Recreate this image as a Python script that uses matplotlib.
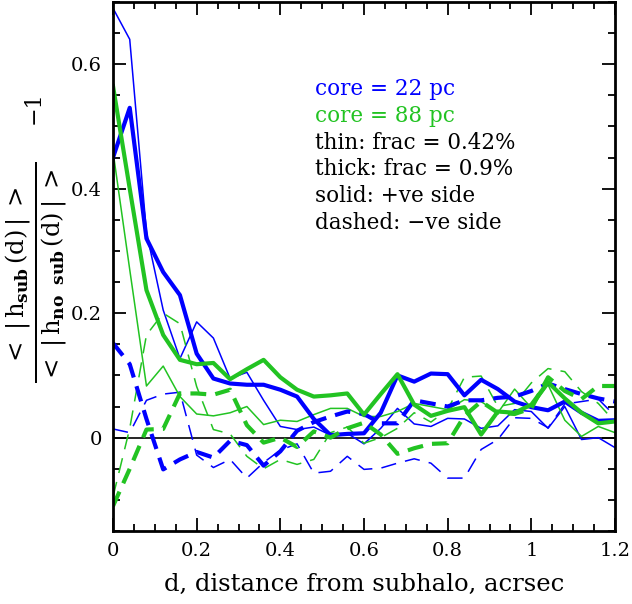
import matplotlib
matplotlib.use("Agg")
import matplotlib.pyplot as plt
from matplotlib.ticker import MultipleLocator
import numpy as np

# data
d = np.round(np.arange(31) * 0.04, 2)

blue_thin_pos = [0.69, 0.64, 0.33, 0.205, 0.127, 0.186, 0.16, 0.095, 0.105, 0.06,
                 0.018, 0.013, 0.017, 0.004, 0.007, -0.01, 0.015, 0.047, 0.022, 0.018,
                 0.031, 0.03, 0.015, 0.019, 0.045, 0.042, 0.015, 0.05, -0.003, 0.0, -0.016]
blue_thin_neg = [0.014, 0.008, 0.06, 0.07, 0.073, -0.028, -0.048, -0.035, -0.065, -0.04,
                 -0.02, -0.01, -0.057, -0.054, -0.03, -0.051, -0.049, -0.041, -0.034, -0.041,
                 -0.065, -0.065, -0.019, -0.003, 0.032, 0.031, 0.016, 0.054, 0.058, 0.062, 0.035]
blue_thick_pos = [0.45, 0.53, 0.32, 0.266, 0.229, 0.135, 0.095, 0.087, 0.085, 0.085,
                  0.077, 0.066, 0.03, 0.004, 0.006, 0.007, 0.04, 0.1, 0.09, 0.103,
                  0.102, 0.068, 0.093, 0.078, 0.058, 0.049, 0.044, 0.058, 0.04, 0.027, 0.028]
blue_thick_neg = [0.152, 0.118, 0.03, -0.051, -0.035, -0.023, -0.032, -0.005, -0.012, -0.045,
                  -0.022, 0.011, 0.025, 0.034, 0.042, 0.038, 0.023, 0.023, 0.06, 0.055,
                  0.05, 0.06, 0.06, 0.064, 0.066, 0.075, 0.087, 0.078, 0.07, 0.063, 0.058]
green_thin_pos = [0.46, 0.27, 0.083, 0.115, 0.066, 0.038, 0.035, 0.04, 0.05, 0.021,
                  0.028, 0.026, 0.037, 0.047, 0.047, 0.034, 0.034, 0.042, 0.055, 0.05,
                  0.045, 0.061, 0.058, 0.04, 0.078, 0.048, 0.085, 0.028, 0.002, 0.018, 0.008]
green_thin_neg = [-0.095, 0.015, 0.165, 0.2, 0.183, 0.082, 0.013, 0.006, -0.03, -0.05,
                  -0.035, -0.043, -0.035, 0.008, 0.017, -0.009, 0.0, 0.015, 0.04, 0.025,
                  0.045, 0.097, 0.099, 0.05, 0.055, 0.088, 0.111, 0.106, 0.074, 0.055, 0.025]
green_thick_pos = [0.565, 0.4, 0.237, 0.165, 0.125, 0.118, 0.12, 0.094, 0.11, 0.125,
                   0.097, 0.077, 0.066, 0.068, 0.071, 0.037, 0.07, 0.102, 0.053, 0.035,
                   0.043, 0.049, 0.005, 0.042, 0.04, 0.053, 0.089, 0.063, 0.04, 0.023, 0.026]
green_thick_neg = [-0.11, -0.05, 0.013, 0.014, 0.071, 0.071, 0.069, 0.077, 0.02, -0.008,
                   0.0, -0.015, 0.01, 0.0, 0.015, 0.024, 0.005, -0.026, -0.017, -0.01,
                   -0.009, 0.035, 0.058, 0.04, 0.038, 0.047, 0.097, 0.075, 0.062, 0.083, 0.083]

legend_lines = ["core = 22 pc", "core = 88 pc", "thin: frac = 0.42%",
                "thick: frac = 0.9%", "solid: +ve side", "dashed: \u2212ve side"]

BLUE = "#0000ff"
GREEN = "#22c322"
THIN = 1.1
THICK = 3.0

plt.rcParams['font.family'] = 'DejaVu Serif'
plt.rcParams['mathtext.fontset'] = 'dejavuserif'

fig = plt.figure(figsize=(6.32, 6.04), dpi=100)
ax = fig.add_axes([113 / 632, 73 / 604, 502 / 632, 529 / 604])

ax.axhline(0, color='black', lw=1.2, zorder=1)

ax.plot(d, blue_thin_pos, color=BLUE, lw=THIN)
ax.plot(d, blue_thin_neg, color=BLUE, lw=THIN, dashes=(10, 6))
ax.plot(d, green_thin_pos, color=GREEN, lw=THIN)
ax.plot(d, green_thin_neg, color=GREEN, lw=THIN, dashes=(10, 6))
ax.plot(d, blue_thick_pos, color=BLUE, lw=THICK)
ax.plot(d, blue_thick_neg, color=BLUE, lw=THICK, dashes=(3.8, 2.2))
ax.plot(d, green_thick_pos, color=GREEN, lw=THICK)
ax.plot(d, green_thick_neg, color=GREEN, lw=THICK, dashes=(3.8, 2.2))

ax.set_xlim(0, 1.2)
ax.set_ylim(-0.15, 0.7)
ax.xaxis.set_minor_locator(MultipleLocator(0.05))
ax.yaxis.set_minor_locator(MultipleLocator(0.05))
ax.set_xticks([0, 0.2, 0.4, 0.6, 0.8, 1.0, 1.2], ["0", "0.2", "0.4", "0.6", "0.8", "1", "1.2"])
ax.set_yticks([0, 0.2, 0.4, 0.6], ["0", "0.2", "0.4", "0.6"])
ax.tick_params(which='both', direction='in', top=True, right=True, labelsize=14, width=1.3)
ax.tick_params(which='major', length=9.5, pad=8)
ax.tick_params(which='minor', length=5)
for s in ax.spines.values():
    s.set_linewidth(2)

ax.set_xlabel("d, distance from subhalo, acrsec", fontsize=17.5, labelpad=9)

fig.text(37 / 632, 1 - 272 / 604,
         r'$\frac{<\;|\,\mathrm{h}_{\mathbf{sub}}\,\mathrm{(d)}\,|\;>}'
         r'{<\;|\,\mathrm{h}_{\mathbf{no\ \ sub}}\,\mathrm{(d)}\,|\;>}$',
         rotation=90, fontsize=25, ha='center', va='center')
fig.text(34 / 632, 1 - 108 / 604, "\u22121", rotation=90, fontsize=16, ha='center', va='center')

colors_txt = [BLUE, GREEN, 'black', 'black', 'black', 'black']
for k, (t, c) in enumerate(zip(legend_lines, colors_txt)):
    ax.text(0.4025, 0.8355 - k * 0.0507, t, color=c, fontsize=15.5,
            transform=ax.transAxes, ha='left', va='center')

fig.savefig("out.png", dpi=100)
